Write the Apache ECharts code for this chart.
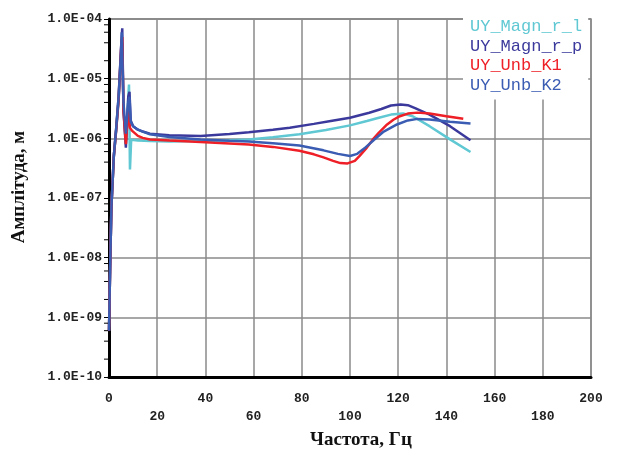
<!DOCTYPE html>
<html>
<head>
<meta charset="utf-8">
<script src="https://cdn.jsdelivr.net/npm/echarts@6/dist/echarts.min.js"></script>
<style>
html,body{margin:0;padding:0;background:#fff;}
#chart{width:621px;height:455px;}
</style>
</head>
<body>
<div id="chart"></div>
<script>
// ---- data ----
const seriesNames = ['UY_Magn_r_l', 'UY_Magn_r_p', 'UY_Unb_K1', 'UY_Unb_K2'];
const seriesColors = ['#5fc8d3', '#3b3a9c', '#ee1f26', '#3a5cb2'];

const freqMagnL = [0, 0.5, 1, 2, 3, 4, 5, 5.5, 6, 7, 8, 8.3, 8.7, 9.2, 10, 12, 17, 25, 38, 50, 58, 68, 79, 90, 100, 107, 112, 117, 122, 126, 133, 141.5, 150];
const ampMagnL  = [6e-10, 8e-9, 7e-8, 5e-7, 1.4e-6, 4.5e-6, 2.5e-5, 4e-5, 3e-6, 8e-7, 5e-6, 8e-6, 3e-7, 9.5e-7, 9.4e-7, 9.2e-7, 9.0e-7, 8.9e-7, 9.0e-7, 9.3e-7, 9.6e-7, 1.04e-6, 1.17e-6, 1.38e-6, 1.65e-6, 1.95e-6, 2.21e-6, 2.5e-6, 2.61e-6, 2.35e-6, 1.6e-6, 9.6e-7, 5.9e-7];

const freqMagnP = [0, 0.5, 1, 2, 3, 4, 5, 5.5, 6, 7, 8, 8.5, 9, 10, 12, 14, 17, 25, 38, 50, 58, 68, 75, 85, 92, 100, 108, 113, 117, 121, 124, 127, 133, 141.5, 150];
const ampMagnP  = [6e-10, 8e-9, 7e-8, 5e-7, 1.5e-6, 5e-6, 3.3e-5, 7e-5, 3e-6, 7e-7, 5e-6, 6e-6, 2e-6, 1.6e-6, 1.4e-6, 1.3e-6, 1.2e-6, 1.13e-6, 1.1e-6, 1.18e-6, 1.27e-6, 1.4e-6, 1.51e-6, 1.75e-6, 1.95e-6, 2.21e-6, 2.68e-6, 3.1e-6, 3.55e-6, 3.7e-6, 3.6e-6, 3.2e-6, 2.5e-6, 1.6e-6, 9.3e-7];

const freqK1 = [0, 0.5, 1, 2, 3, 4, 5, 5.5, 6, 7, 8, 8.7, 9.5, 10, 12, 14, 17, 25, 38, 50, 58, 68, 79, 85, 89, 93, 96, 99, 102, 104, 107, 109.5, 112, 115.4, 118, 120.7, 124, 128, 133, 140, 147];
const ampK1  = [6e-10, 8e-9, 7e-8, 5e-7, 1.4e-6, 4.5e-6, 3e-5, 5e-5, 3e-6, 8e-7, 3e-6, 1.5e-6, 1.35e-6, 1.25e-6, 1.1e-6, 1.02e-6, 9.6e-7, 9.2e-7, 8.7e-7, 8.2e-7, 7.9e-7, 7.2e-7, 6.2e-7, 5.4e-7, 4.8e-7, 4.2e-7, 3.85e-7, 3.8e-7, 4.2e-7, 5.1e-7, 7e-7, 9.6e-7, 1.25e-6, 1.71e-6, 2.05e-6, 2.35e-6, 2.6e-6, 2.7e-6, 2.6e-6, 2.35e-6, 2.13e-6];

const freqK2 = [0, 0.5, 1, 2, 3, 4, 5, 5.3, 6, 7, 8, 8.5, 9, 10, 12, 14, 17, 25, 38, 50, 58, 68, 79, 89, 95, 100, 103, 106, 110, 114, 119.5, 124, 128, 133, 141.5, 150];
const ampK2  = [6e-10, 8e-9, 7e-8, 5e-7, 1.5e-6, 5e-6, 3e-5, 6e-5, 4e-6, 1.2e-6, 4e-6, 5e-6, 1.9e-6, 1.6e-6, 1.4e-6, 1.3e-6, 1.17e-6, 1.05e-6, 9.6e-7, 9.1e-7, 8.9e-7, 8.3e-7, 7.6e-7, 6.3e-7, 5.5e-7, 5.07e-7, 5.5e-7, 6.8e-7, 9.5e-7, 1.3e-6, 1.71e-6, 2.0e-6, 2.12e-6, 2.07e-6, 1.9e-6, 1.78e-6];

const xTicks = [0, 20, 40, 60, 80, 100, 120, 140, 160, 180, 200];
const yMin = 1e-10, yMax = 1e-4;
const minorTickMantissas = [2, 4, 6, 8];
const decades = [1e-10, 1e-9, 1e-8, 1e-7, 1e-6, 1e-5];

const xTitle = 'Частота, Гц';
const yTitle = 'Амплітуда, м';

// ---- build ----
function zip(xs, ys) { return xs.map((x, i) => [x, ys[i]]); }
const allFreq = [freqMagnL, freqMagnP, freqK1, freqK2];
const allAmp = [ampMagnL, ampMagnP, ampK1, ampK2];

const minorTickData = [];
decades.forEach(d => minorTickMantissas.forEach(m => minorTickData.push([0, m * d])));

function fmtY(v) {
  const e = Math.round(Math.log10(v));
  const a = Math.abs(e);
  return '1.0E' + (e < 0 ? '-' : '+') + (a < 10 ? '0' + a : '' + a);
}

const lineSeries = seriesNames.map((name, i) => ({
  name: name,
  type: 'line',
  data: zip(allFreq[i], allAmp[i]),
  showSymbol: false,
  symbol: 'none',
  smooth: false,
  lineStyle: { color: seriesColors[i], width: 2.5 },
  itemStyle: { color: seriesColors[i] },
  z: 3 + i,
  animation: false
}));

const chart = echarts.init(document.getElementById('chart'), null, { renderer: 'canvas' });
chart.setOption({
  backgroundColor: '#ffffff',
  animation: false,
  grid: {
    left: 109, right: 30, top: 19, bottom: 76,
    show: true, borderColor: '#8a8a8a', borderWidth: 1.5, backgroundColor: 'transparent'
  },
  legend: {
    orient: 'vertical',
    left: 463, top: 17,
    padding: [1, 6, 6, 2],
    backgroundColor: '#ffffff',
    icon: 'none',
    itemWidth: 0, itemHeight: 12, itemGap: 2.5,
    selectedMode: false,
    textStyle: { fontFamily: 'Liberation Mono', fontSize: 17, lineHeight: 17 },
    data: seriesNames.map((n, i) => ({ name: n, textStyle: { color: seriesColors[i] } }))
  },
  xAxis: {
    type: 'value',
    min: xTicks[0], max: xTicks[xTicks.length - 1], interval: 20,
    name: xTitle,
    nameLocation: 'middle',
    nameGap: 52,
    nameTextStyle: { fontFamily: 'Liberation Serif', fontWeight: 'bold', fontSize: 19, color: '#111', padding: [0, 0, 0, 22] },
    axisLine: { show: true, onZero: false, lineStyle: { color: '#000', width: 3 } },
    axisTick: { show: false },
    axisLabel: {
      fontFamily: 'Liberation Mono', fontWeight: 'bold', fontSize: 13, color: '#222',
      margin: 13, lineHeight: 18,
      formatter: (v, idx) => (Math.round(v / 20) % 2 === 1 ? '\n' + v : '' + v)
    },
    splitLine: { show: true, lineStyle: { color: '#8a8a8a', width: 1.5 } }
  },
  yAxis: {
    type: 'log',
    logBase: 10,
    min: yMin, max: yMax,
    splitNumber: 6,
    name: yTitle,
    nameLocation: 'middle',
    nameGap: 80,
    nameRotate: 90,
    nameTextStyle: { fontFamily: 'Liberation Serif', fontWeight: 'bold', fontSize: 19, color: '#111', padding: [0, 0, 0, 22] },
    axisLine: { show: true, onZero: false, lineStyle: { color: '#000', width: 3 } },
    axisTick: { show: true, inside: false, length: 5, lineStyle: { color: '#000', width: 1 } },
    axisLabel: {
      fontFamily: 'Liberation Mono', fontWeight: 'bold', fontSize: 13, color: '#222',
      margin: 7,
      formatter: fmtY
    },
    splitLine: { show: true, lineStyle: { color: '#8a8a8a', width: 1.5 } }
  },
  series: lineSeries.concat([{
    type: 'custom',
    name: 'minorTicks',
    data: minorTickData,
    clip: false,
    silent: true,
    z: 10,
    renderItem: function (params, api) {
      const p = api.coord([api.value(0), api.value(1)]);
      return {
        type: 'line',
        shape: { x1: p[0] - 5, y1: p[1], x2: p[0] - 1, y2: p[1] },
        style: { stroke: '#000', lineWidth: 1 }
      };
    }
  }])
});
</script>
</body>
</html>
